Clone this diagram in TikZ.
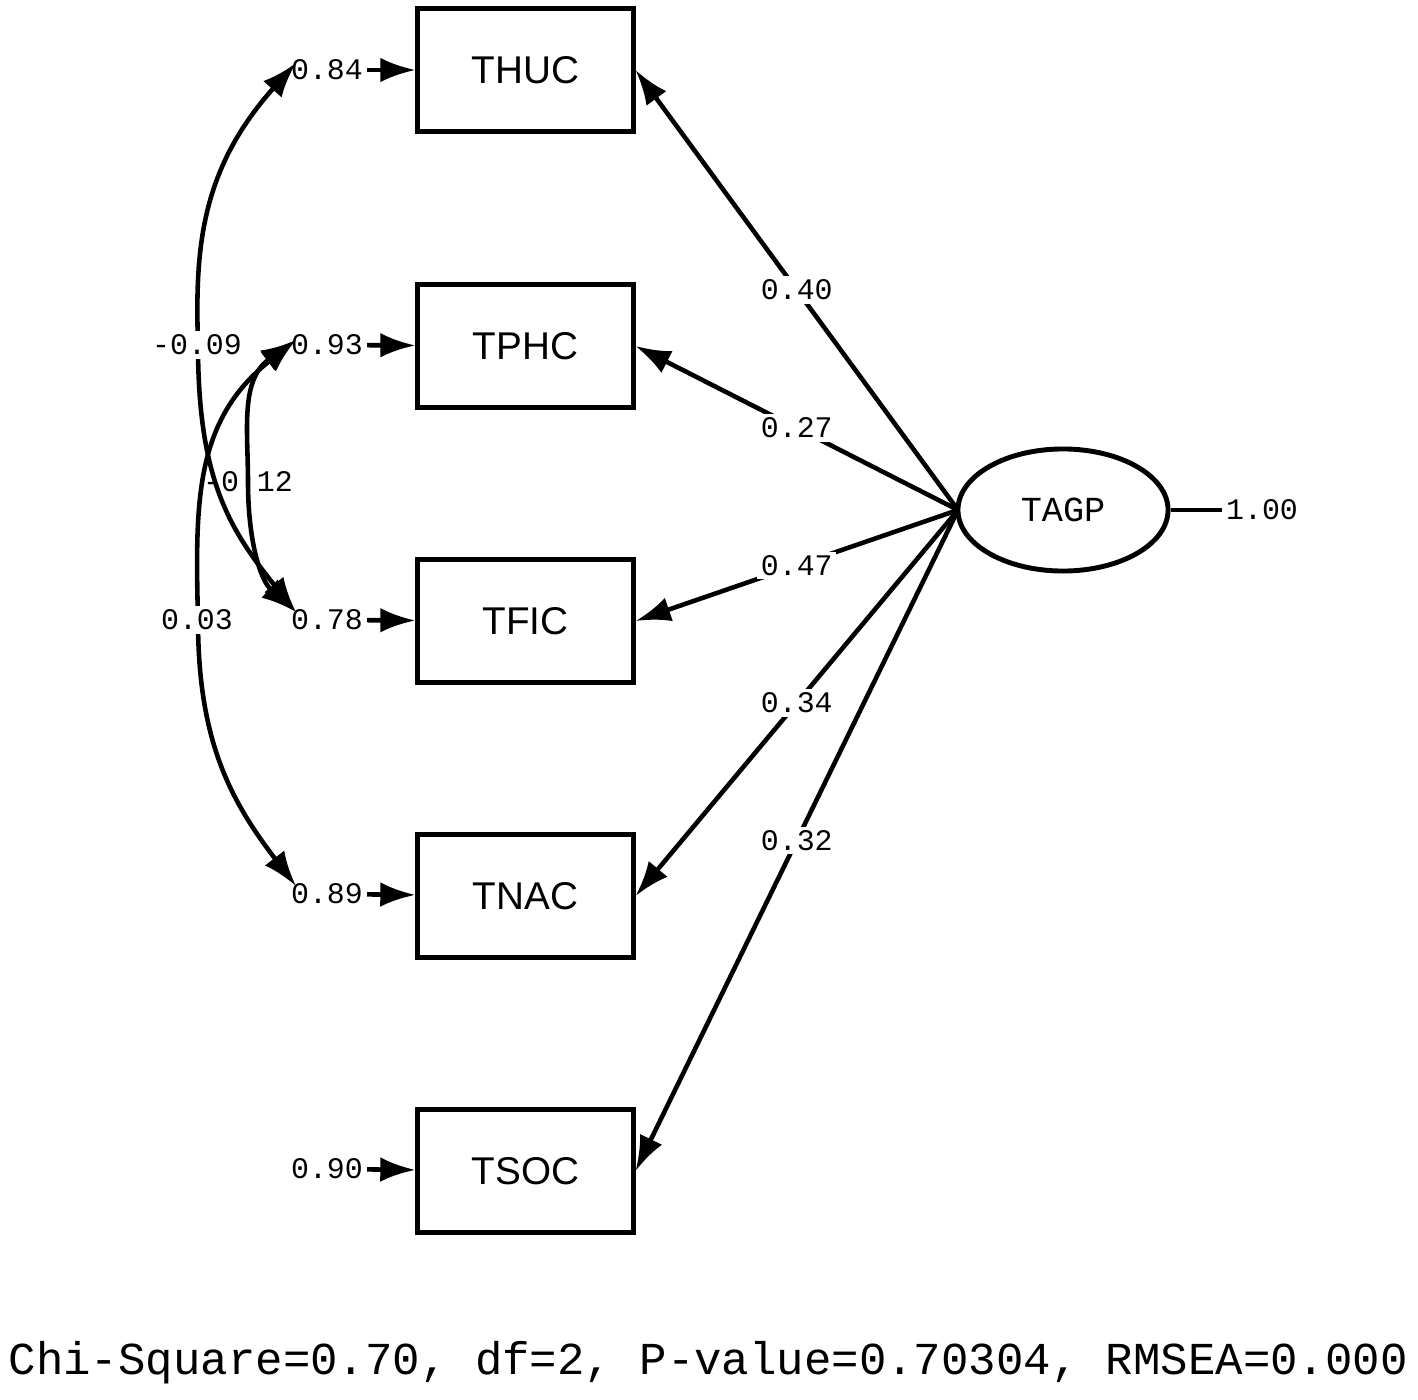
\documentclass[tikz,border=0pt]{standalone}
\usepackage{fontspec}
\setmainfont{Liberation Sans}
\newfontfamily\monof{Liberation Mono}
\usetikzlibrary{shapes.geometric,arrows.meta}
\begin{document}
\begin{tikzpicture}[x=0.01cm,y=-0.01cm,
 obs/.style={draw,line width=1.4pt,minimum width=2.15cm,minimum height=1.23cm,font=\fontsize{11}{12}\selectfont},
 lat/.style={draw,ellipse,line width=1.4pt,minimum width=2.1cm,minimum height=1.22cm,font=\monof\fontsize{10}{11}\selectfont},
 lab/.style={font=\monof\fontsize{8.5}{10}\selectfont,fill=white,inner sep=1pt},
 err/.style={font=\monof\fontsize{8.5}{10}\selectfont,inner sep=1pt},
 arr/.style={line width=1.3pt,-{Latex[length=10pt,width=7pt]}},
 darr/.style={line width=1.3pt,{Latex[length=10pt,width=7pt]}-{Latex[length=10pt,width=7pt]}}]
\useasboundingbox (0,0) rectangle (1418,1400);
\node[obs] (thuc) at (525.5,70) {THUC};
\node[obs] (tphc) at (525.5,346) {TPHC};
\node[obs] (tfic) at (525.5,621) {TFIC};
\node[obs] (tnac) at (525.5,896) {TNAC};
\node[obs] (tsoc) at (525.5,1171) {TSOC};
\node[lat] (tagp) at (1063,510) {TAGP};
\node[err] (e1) at (327,70) {0.84};
\node[err] (e2) at (327,345) {0.93};
\node[err] (e3) at (327,620) {0.78};
\node[err] (e4) at (327,894) {0.89};
\node[err] (e5) at (327,1169) {0.90};
\node[err] (v) at (1262,510) {1.00};
\foreach \e/\b in {e1/thuc,e2/tphc,e3/tfic,e4/tnac,e5/tsoc} \draw[arr] (\e) -- (\b);
\draw[line width=1.3pt] (tagp) -- (v);
\coordinate (tl) at (958,510);
\draw[arr] (tl) -- (thuc.east) node[lab,pos=0.5] {0.40};
\draw[arr] (tl) -- (tphc.east) node[lab,pos=0.5] {0.27};
\draw[arr] (tl) -- (tfic.east) node[lab,pos=0.5] {0.47};
\draw[arr] (tl) -- (tnac.east) node[lab,pos=0.5] {0.34};
\draw[arr] (tl) -- (tsoc.east) node[lab,pos=0.5] {0.32};
\coordinate (a1) at (296,63);
\coordinate (a2) at (296,340);
\coordinate (a3) at (296,612);
\coordinate (a4) at (296,886);
\draw[darr] (a1) .. controls (200,170) and (195,250) .. (198,345) .. controls (198,480) and (230,530) .. (a3);
\draw[darr] (a2) .. controls (195,420) and (195,500) .. (198,620) .. controls (198,740) and (230,800) .. (a4);
\draw[darr] (a2) .. controls (240,380) and (248,430) .. (248,482) .. controls (248,540) and (260,580) .. (a3);
\node[lab] at (197,345) {-0.09};
\node[lab] at (197,620) {0.03};
\node[err] at (248,482) {-0.12};
\node[font=\monof\fontsize{13}{15}\selectfont,anchor=west,inner sep=0] at (8,1363) {Chi-Square=0.70, df=2, P-value=0.70304, RMSEA=0.000};
\end{tikzpicture}
\end{document}
